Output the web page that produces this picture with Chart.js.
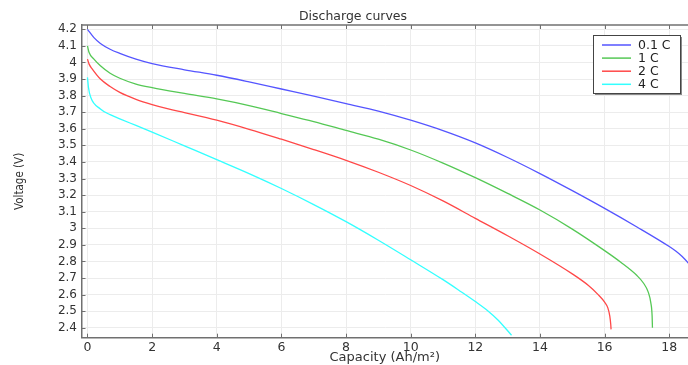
<!DOCTYPE html>
<html>
<head>
<meta charset="utf-8">
<script src="https://cdn.jsdelivr.net/npm/chart.js@4.4.1/dist/chart.umd.min.js"></script>
<style>
    body { margin: 0; background: #fff; }
    #wrap { width: 688px; height: 365px; }
</style>
</head>
<body>
<div id="wrap"><canvas id="myChart"></canvas></div>
<script>
const chartTitle = 'Discharge curves';
const seriesLabels = ['0.1 C', '1 C', '2 C', '4 C'];
const seriesColors = ['#5555ff', '#55c855', '#ff4848', '#33ffff'];

// capacity (Ah/m2) and voltage (V)
const cap01 = [0, 0.2, 0.4, 0.7, 1, 1.5, 2, 3, 4, 5, 6, 7, 8, 9, 10, 11, 12, 13, 14, 15, 16, 17, 18, 18.2, 18.4, 18.6, 18.8];
const volt01 = [4.2, 4.15, 4.115, 4.08, 4.055, 4.02, 3.993, 3.956, 3.923, 3.883, 3.84, 3.797, 3.752, 3.707, 3.652, 3.589, 3.515, 3.427, 3.33, 3.227, 3.12, 3.008, 2.89, 2.863, 2.83, 2.787, 2.73];

const cap1 = [0, 0.05, 0.2, 0.4, 0.7, 1, 1.5, 2, 3, 4, 5, 6, 7, 8, 9, 10, 11, 12, 13, 14, 15, 16, 16.5, 17, 17.2, 17.35, 17.43, 17.47, 17.48];
const volt1 = [4.1, 4.06, 4.02, 3.98, 3.935, 3.905, 3.87, 3.848, 3.813, 3.78, 3.74, 3.692, 3.643, 3.59, 3.537, 3.472, 3.393, 3.305, 3.21, 3.11, 2.995, 2.865, 2.795, 2.715, 2.67, 2.615, 2.55, 2.47, 2.4];

const cap2 = [0, 0.05, 0.15, 0.4, 0.7, 1, 1.5, 2, 2.5, 3, 4, 5, 6, 7, 8, 9, 10, 11, 12, 13, 14, 15, 15.5, 15.8, 16, 16.1, 16.16, 16.19, 16.2];
const volt2 = [4.02, 3.99, 3.96, 3.9, 3.855, 3.82, 3.778, 3.746, 3.72, 3.698, 3.652, 3.597, 3.537, 3.475, 3.41, 3.338, 3.258, 3.165, 3.06, 2.955, 2.845, 2.725, 2.655, 2.6, 2.555, 2.52, 2.47, 2.42, 2.39];

const cap4 = [0, 0.03, 0.1, 0.4, 0.7, 1, 1.5, 2, 3, 4, 5, 6, 7, 8, 9, 10, 11, 11.5, 12, 12.4, 12.7, 13.12];
const volt4 = [3.91, 3.85, 3.79, 3.72, 3.685, 3.66, 3.62, 3.58, 3.497, 3.414, 3.33, 3.24, 3.143, 3.04, 2.928, 2.81, 2.69, 2.625, 2.558, 2.5, 2.447, 2.355];

const xTicks = [0, 2, 4, 6, 8, 10, 12, 14, 16, 18];
const yTicks = [2.4, 2.5, 2.6, 2.7, 2.8, 2.9, 3, 3.1, 3.2, 3.3, 3.4, 3.5, 3.6, 3.7, 3.8, 3.9, 4, 4.1, 4.2];

const toPoints = (xs, ys) => xs.map((x, i) => ({ x: x, y: ys[i] }));
const allCaps = [cap01, cap1, cap2, cap4];
const allVolts = [volt01, volt1, volt2, volt4];

const font = "'DejaVu Sans', sans-serif";
const axisColor = '#707070';

// top border, inner tick marks, title and boxed legend
const extras = {
    id: 'extras',
    afterDraw: (chart) => {
        const ctx = chart.ctx;
        const a = chart.chartArea;
        const xs = chart.scales.x;
        const ys = chart.scales.y;
        ctx.save();
        ctx.strokeStyle = axisColor;
        ctx.lineWidth = 1.5;
        ctx.beginPath();
        ctx.moveTo(a.left, a.top);
        ctx.lineTo(a.right, a.top);
        ctx.stroke();

        ctx.lineWidth = 1;
        ctx.beginPath();
        xTicks.forEach(v => {
            const px = Math.round(xs.getPixelForValue(v)) + 0.5;
            ctx.moveTo(px, a.bottom);
            ctx.lineTo(px, a.bottom - 4);
            ctx.moveTo(px, a.top);
            ctx.lineTo(px, a.top + 4);
        });
        yTicks.forEach(v => {
            const py = Math.round(ys.getPixelForValue(v)) + 0.5;
            ctx.moveTo(a.left, py);
            ctx.lineTo(a.left + 4, py);
        });
        ctx.stroke();

        ctx.fillStyle = '#333';
        ctx.font = '12.5px ' + font;
        ctx.textAlign = 'center';
        ctx.textBaseline = 'middle';
        ctx.fillText(chartTitle, 353, 16.5);

        // legend
        const bx = 593, by = 35, bw = 87, bh = 58;
        ctx.fillStyle = '#8a8a8a';
        ctx.fillRect(bx + 2, by + 2, bw, bh);
        ctx.fillStyle = '#fff';
        ctx.fillRect(bx, by, bw, bh);
        ctx.strokeStyle = '#444';
        ctx.strokeRect(bx + 0.5, by + 0.5, bw, bh);
        ctx.textAlign = 'left';
        ctx.font = '12.5px ' + font;
        chart.data.datasets.forEach((ds, i) => {
            const ry = by + 10 + i * 13.1;
            ctx.strokeStyle = ds.borderColor;
            ctx.lineWidth = 1.5;
            ctx.beginPath();
            ctx.moveTo(602, ry);
            ctx.lineTo(631, ry);
            ctx.stroke();
            ctx.fillStyle = '#222';
            ctx.fillText(ds.label, 638, ry + 0.5);
        });
        ctx.restore();
    }
};

const data = {
    datasets: seriesLabels.map((label, i) => ({
        label: label,
        data: toPoints(allCaps[i], allVolts[i]),
        borderColor: seriesColors[i],
        backgroundColor: seriesColors[i],
        borderWidth: 1.3,
        pointRadius: 0,
        showLine: true,
        cubicInterpolationMode: 'monotone',
    }))
};

const config = {
    type: 'scatter',
    data: data,
    options: {
        responsive: true,
        maintainAspectRatio: false,
        animation: false,
        layout: { padding: { top: 25, right: 0, left: 0, bottom: 0 } },
        plugins: {
            legend: { display: false },
            title: { display: false },
            tooltip: { enabled: false },
        },
        scales: {
            x: {
                type: 'linear',
                min: -0.185,
                max: 18.58,
                afterFit: (s) => { s.height = 27.3; },
                afterBuildTicks: (s) => { s.ticks = xTicks.map(v => ({ value: v })); },
                ticks: {
                    padding: 2.5,
                    color: '#333',
                    font: { family: font, size: 12.5 },
                    maxRotation: 0,
                    autoSkip: false,
                },
                grid: { color: '#ececec', drawTicks: false },
                border: { color: axisColor, width: 1.5 },
                title: {
                    display: true,
                    text: 'Capacity (Ah/m²)',
                    color: '#333',
                    font: { family: font, size: 13 },
                    padding: { top: 0, bottom: 0 },
                },
            },
            y: {
                min: 2.34,
                max: 4.226,
                afterFit: (s) => { s.width = 81.5; },
                afterBuildTicks: (s) => { s.ticks = yTicks.map(v => ({ value: v })); },
                ticks: {
                    padding: 4.5,
                    color: '#333',
                    font: { family: font, size: 12 },
                    autoSkip: false,
                    callback: (v) => String(Number(v.toFixed(1))),
                },
                grid: { color: '#ececec', drawTicks: false },
                border: { color: axisColor, width: 1.5 },
                title: {
                    display: true,
                    text: 'Voltage (V)',
                    color: '#333',
                    font: { family: "'DejaVu Sans Condensed', 'Liberation Sans Narrow', 'DejaVu Sans', sans-serif", size: 11.5 },
                    padding: { top: 13, bottom: 0 },
                },
            },
        },
    },
    plugins: [extras],
};

const myChart = new Chart(document.getElementById('myChart'), config);
</script>
</body>
</html>
